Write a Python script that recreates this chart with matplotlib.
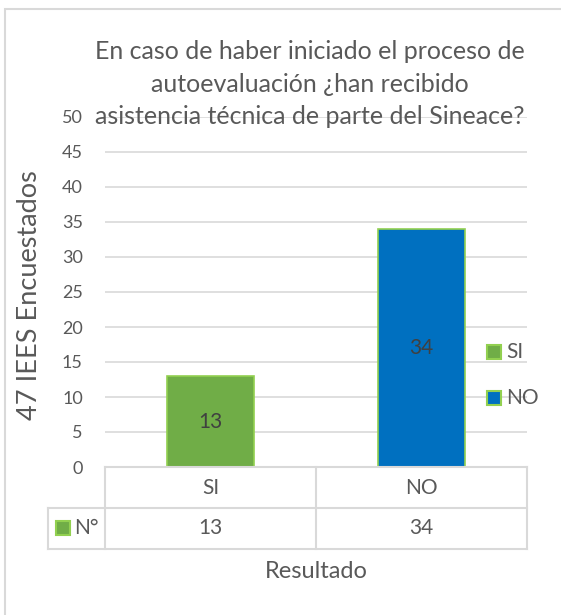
import matplotlib.pyplot as plt
from matplotlib.patches import Rectangle
from matplotlib.lines import Line2D

categories = ["SI", "NO"]
values = [13, 34]
series_name = "N°"
title = "En caso de haber iniciado el proceso de\nautoevaluación ¿han recibido\nasistencia técnica de parte del Sineace?"
ylabel = "47 IEES Encuestados"
xlabel = "Resultado"
yticks = [0, 5, 10, 15, 20, 25, 30, 35, 40, 45, 50]

plt.rcParams['font.family'] = ['Lato', 'DejaVu Sans']
txt = '#595959'
grid = '#D9D9D9'
colors = ['#70AD47', '#0070C0']
edge = '#92D050'

W, H = 561, 615
fig = plt.figure(figsize=(W / 100, H / 100), dpi=100)

def fx(px):
    return px / W

def fy(py):
    return 1 - py / H

# outer chart frame
fig.add_artist(Rectangle((fx(5), fy(640)), fx(600) - fx(5), fy(8.5) - fy(640),
                         transform=fig.transFigure, fill=False, ec='#D9D9D9', lw=1.5))

x0, x1, ytop, ybot = 105, 527, 117, 467
ax = fig.add_axes([fx(x0), fy(ybot), fx(x1) - fx(x0), fy(ytop) - fy(ybot)])
ax.set_xlim(-0.5, 1.5)
ax.set_ylim(0, 50)
for s in ax.spines.values():
    s.set_visible(False)
ax.set_yticks(yticks)
ax.tick_params(axis='y', length=0, labelsize=13, labelcolor=txt, pad=16)
ax.set_xticks([])
ax.yaxis.grid(True, color=grid, lw=1.2)
ax.set_axisbelow(True)

bars = ax.bar(range(len(categories)), values, width=0.41, color=colors,
              edgecolor=edge, lw=1.2)
for b, v in zip(bars, values):
    ax.text(b.get_x() + b.get_width() / 2, v / 2, str(v), ha='center', va='center',
            fontsize=15, color='#404040')

ax.set_ylabel(ylabel, fontsize=19.5, color=txt)
ax.yaxis.set_label_coords((42 - x0) / (x1 - x0), 0.49)

fig.text(fx(310), fy(84), title, ha='center', va='center', fontsize=18,
         color=txt, linespacing=1.5)

# legend at right
for i, (c, name) in enumerate(zip(colors, categories)):
    yy = 352 + i * 46
    fig.add_artist(Rectangle((fx(487), fy(yy + 7)), fx(14), 14 / H, transform=fig.transFigure,
                             fc=c, ec=edge, lw=1.5))
    fig.text(fx(506), fy(yy), name, ha='left', va='center', fontsize=15, color=txt)

# data table under the axis
tcol = '#D9D9D9'
rows = [467, 508, 549]
cols = [x0, (x0 + x1) / 2, x1]
def hline(xa, xb, y):
    fig.add_artist(Line2D([fx(xa), fx(xb)], [fy(y), fy(y)], transform=fig.transFigure,
                          color=tcol, lw=1.5))
def vline(x, ya, yb):
    fig.add_artist(Line2D([fx(x), fx(x)], [fy(ya), fy(yb)], transform=fig.transFigure,
                          color=tcol, lw=1.5))

hline(x0, x1, rows[0])
hline(48, x1, rows[1])
hline(48, x1, rows[2])
for c in cols:
    vline(c, rows[0], rows[2])
vline(48, rows[1], rows[2])

for i, (cat, v) in enumerate(zip(categories, values)):
    cx = (cols[i] + cols[i + 1]) / 2
    fig.text(fx(cx), fy((rows[0] + rows[1]) / 2), cat, ha='center', va='center',
             fontsize=15, color=txt)
    fig.text(fx(cx), fy((rows[1] + rows[2]) / 2), str(v), ha='center', va='center',
             fontsize=15, color=txt)

fig.add_artist(Rectangle((fx(56), fy(535)), fx(14), 14 / H, transform=fig.transFigure,
                         fc=colors[0], ec=edge, lw=1.5))
fig.text(fx(74), fy(528), series_name, ha='left', va='center', fontsize=15, color=txt)

fig.text(fx(316), fy(572), xlabel, ha='center', va='center', fontsize=17, color=txt)

fig.savefig('out.png', dpi=100)
